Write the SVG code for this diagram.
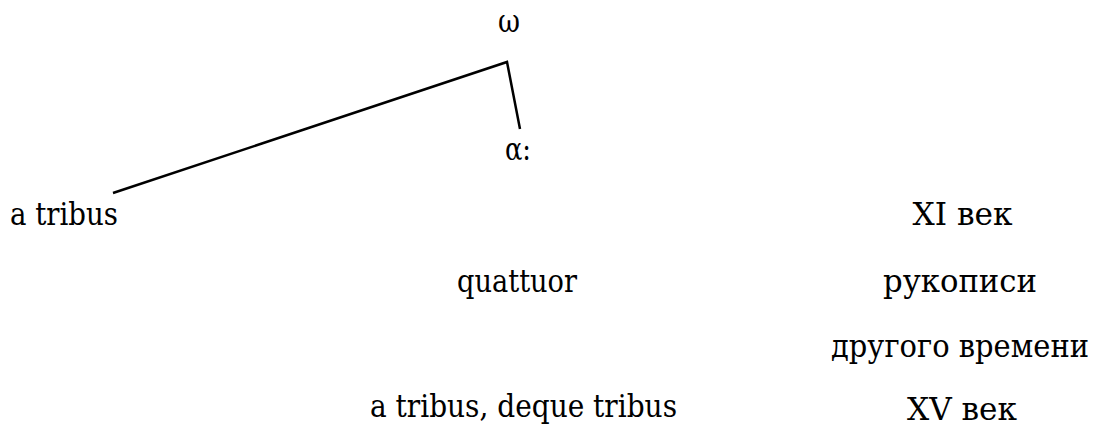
<svg xmlns="http://www.w3.org/2000/svg" width="1099" height="429" viewBox="0 0 1099 429">
<style>
text{font-family:'DejaVu Serif', 'Liberation Serif', 'Times New Roman', serif;font-size:32px;fill:#000}
.c{text-anchor:middle}
.edge{stroke:#000;stroke-width:2.5;fill:none}
</style>
<rect width="1099" height="429" fill="#fff"/>
<g id="connectors">
<polyline class="edge" points="113,193 507,62 520,129"/>
</g>
<g id="omega"><text class="c" x="509" y="32" font-size="34" textLength="22" lengthAdjust="spacingAndGlyphs">ω</text></g>
<g id="alpha"><text x="505" y="160" font-size="34" textLength="26" lengthAdjust="spacingAndGlyphs">α:</text></g>
<g id="a-tribus"><text x="10" y="225" textLength="108" lengthAdjust="spacingAndGlyphs">a tribus</text></g>
<g id="quattuor"><text x="457" y="292" textLength="120" lengthAdjust="spacingAndGlyphs">quattuor</text></g>
<g id="a-tribus-deque"><text x="370" y="417" textLength="307" lengthAdjust="spacingAndGlyphs">a tribus, deque tribus</text></g>
<g id="xi"><text class="c" x="962.5" y="225" textLength="100" lengthAdjust="spacingAndGlyphs">XI век</text></g>
<g id="rukopisi"><text class="c" x="960" y="292" textLength="154" lengthAdjust="spacingAndGlyphs">рукописи</text></g>
<g id="drugogo"><text class="c" x="960" y="357" font-size="29" textLength="258" lengthAdjust="spacingAndGlyphs">другого времени</text></g>
<g id="xv"><text class="c" x="962" y="420" textLength="110" lengthAdjust="spacingAndGlyphs">XV век</text></g>
</svg>
